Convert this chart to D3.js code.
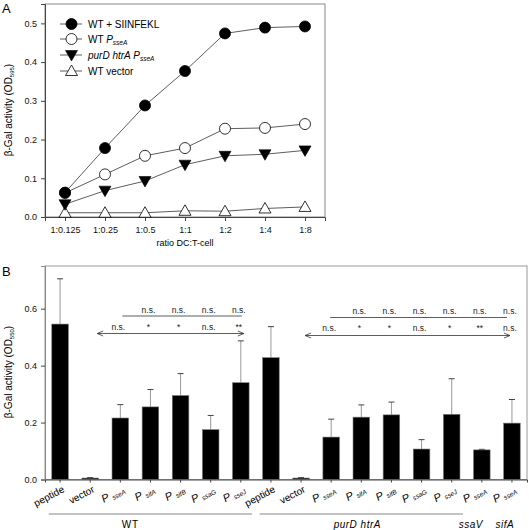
<!DOCTYPE html>
<html><head><meta charset="utf-8">
<script src="https://cdn.jsdelivr.net/npm/d3@7"></script>
<style>body{margin:0;background:#fff}svg{font-family:Arial,"Liberation Sans",sans-serif}</style>
</head><body>
<script>
// ---- Panel A data ----
const ratios = ["1:0.125","1:0.25","1:0.5","1:1","1:2","1:4","1:8"];
const seriesNames = ["WT + SIINFEKL","WT P","purD htrA P","WT vector"];
const wtPeptide = [0.063,0.178,0.288,0.377,0.474,0.489,0.492];
const wtPsseA   = [0.062,0.110,0.158,0.178,0.228,0.230,0.240];
const purdPsseA = [0.033,0.068,0.093,0.135,0.158,0.162,0.172];
const wtVector  = [0.011,0.011,0.011,0.016,0.015,0.022,0.026];
const aTicks = [0.0,0.1,0.2,0.3,0.4,0.5];

// ---- Panel B data ----
const bMain = ["peptide","vector","P","P","P","P","P","peptide","vector","P","P","P","P","P","P","P"];
const bSub  = ["","","sseA","sifA","sifB","ssaG","sseJ","","","sseA","sifA","sifB","ssaG","sseJ","sseA","sseA"];
const bValues = [0.546,0.005,0.216,0.255,0.295,0.175,0.340,0.428,0.005,0.149,0.219,0.227,0.107,0.229,0.104,0.198];
const bErrTop = [0.705,0.007,0.263,0.316,0.372,0.225,0.487,0.537,0.007,0.212,0.262,0.272,0.140,0.354,0.106,0.281];
const bTicks = [0.0,0.2,0.4,0.6];
// significance rows (bar index -> label)
const wtUpperIdx = [3,4,5,6], wtUpperLab = ["n.s.","n.s.","n.s.","n.s."];
const wtLowerIdx = [2,3,4,5,6], wtLowerLab = ["n.s.","*","*","n.s.","**"];
const pdUpperIdx = [10,11,12,13,14,15], pdUpperLab = ["n.s.","n.s.","n.s.","n.s.","n.s.","n.s."];
const pdLowerIdx = [9,10,11,12,13,14,15], pdLowerLab = ["n.s.","*","*","n.s.","*","**","n.s."];
const groups = [{name:"WT",from:0,to:6,italic:false,line:true,shift:-20},{name:"purD htrA",from:7,to:13,italic:true,line:true,shift:-4},{name:"ssaV",from:14,to:14,italic:true,line:false,shift:-11},{name:"sifA",from:15,to:15,italic:true,line:false,shift:-7}];

const svg = d3.select("body").append("svg").attr("width",529).attr("height",530);

// ================= Panel A =================
const aL=45,aR=325,aT=4,aB=217;
const xA = d3.scalePoint().domain(ratios).range([aL,aR]).padding(0.5);
const yA = d3.scaleLinear().domain([0,0.55]).range([aB,aT]);
const gA = svg.append("g");
gA.append("rect").attr("x",aL).attr("y",aT).attr("width",aR-aL).attr("height",aB-aT).attr("fill","none").attr("stroke","#888").attr("stroke-width",1);
const axLA = gA.append("g").attr("transform",`translate(${aL},0)`).call(d3.axisLeft(yA).tickValues(aTicks).tickFormat(d3.format(".1f")).tickSize(4).tickPadding(4));
const axBA = gA.append("g").attr("transform",`translate(0,${aB})`).call(d3.axisBottom(xA).tickSize(4).tickPadding(6));
[axLA,axBA].forEach(a=>{a.select(".domain").attr("stroke","#444");a.selectAll(".tick line").attr("stroke","#444");a.selectAll("text").attr("font-size",9).attr("fill","#111").attr("font-family","Arial,'Liberation Sans',sans-serif");});
gA.append("text").attr("x",185).attr("y",246).attr("text-anchor","middle").attr("font-size",9).text("ratio DC:T-cell");
const yl = gA.append("text").attr("transform","translate(12,110) rotate(-90)").attr("text-anchor","middle").attr("font-size",10);
yl.append("tspan").text("β-Gal activity (OD");
yl.append("tspan").attr("font-size",6).attr("dy",2).text("595");
yl.append("tspan").attr("dy",-2).text(")");
svg.append("text").attr("x",2).attr("y",13).attr("font-size",13).text("A");

const aSeries = [
 {vals:wtPeptide, shape:"circle", fill:"#000"},
 {vals:wtPsseA, shape:"circle", fill:"#fff"},
 {vals:purdPsseA, shape:"tridown", fill:"#000"},
 {vals:wtVector, shape:"triup", fill:"#fff"}];
const line = d3.line().x((d,i)=>xA(ratios[i])).y(d=>yA(d));
function marker(g,s,x,y){
  if(s.shape==="circle"){
    g.append("circle").attr("cx",x).attr("cy",y).attr("r",5.5).attr("fill",s.fill).attr("stroke","#000").attr("stroke-width",0.8);
  } else if(s.shape==="tridown"){
    g.append("path").attr("d",`M${x-6},${y-4.5}L${x+6},${y-4.5}L${x},${y+6}Z`).attr("fill","#000").attr("stroke","#000").attr("stroke-width",0.6);
  } else {
    g.append("path").attr("d",`M${x-6},${y+4.5}L${x+6},${y+4.5}L${x},${y-6}Z`).attr("fill","#fff").attr("stroke","#000").attr("stroke-width",0.8);
  }
}
aSeries.slice().reverse().forEach(s=>{
  gA.append("path").attr("d",line(s.vals)).attr("fill","none").attr("stroke","#333").attr("stroke-width",0.8);
});
aSeries.slice().reverse().forEach(s=>{
  s.vals.forEach((v,i)=>marker(gA,s,xA(ratios[i]),yA(v)));
});
// legend
const legY=[24,39,55,71];
aSeries.forEach((s,i)=>{
  gA.append("line").attr("x1",60).attr("x2",82).attr("y1",legY[i]).attr("y2",legY[i]).attr("stroke","#333").attr("stroke-width",0.8);
  marker(gA,s,71.5,legY[i]);
  const t=gA.append("text").attr("x",88).attr("y",legY[i]+3.5).attr("font-size",10);
  if(i===0) t.text(seriesNames[0]);
  else if(i===1){t.append("tspan").text("WT ");t.append("tspan").attr("font-style","italic").text("P");t.append("tspan").attr("font-style","italic").attr("font-size",6.5).attr("dy",2).text("sseA");}
  else if(i===2){t.append("tspan").attr("font-style","italic").text("purD htrA P");t.append("tspan").attr("font-style","italic").attr("font-size",6.5).attr("dy",2).text("sseA");}
  else t.text(seriesNames[3]);
});

// ================= Panel B =================
const bL=45,bR=527,bT=266,bB=479.5;
const idx = d3.range(bValues.length);
const xB = d3.scaleBand().domain(idx).range([bL,bR]).paddingInner(0.45).paddingOuter(0.225);
const yB = d3.scaleLinear().domain([0,0.75]).range([bB,bT]);
const cx = i=>xB(i)+xB.bandwidth()/2;
const gB = svg.append("g");
gB.append("rect").attr("x",bL).attr("y",bT).attr("width",bR-bL).attr("height",bB-bT).attr("fill","none").attr("stroke","#999").attr("stroke-width",1);
const axLB = gB.append("g").attr("transform",`translate(${bL},0)`).call(d3.axisLeft(yB).tickValues(bTicks).tickFormat(d3.format(".1f")).tickSize(4).tickPadding(4));
const axBB = gB.append("g").attr("transform",`translate(0,${bB})`).call(d3.axisBottom(xB).tickSize(3).tickFormat(""));
axLB.select(".domain").attr("stroke","#888");
axBB.select(".domain").attr("stroke","#444");
[axLB,axBB].forEach(a=>{a.selectAll(".tick line").attr("stroke","#444");a.selectAll("text").attr("font-size",9).attr("fill","#111").attr("font-family","Arial,'Liberation Sans',sans-serif");});
svg.append("text").attr("x",2).attr("y",276).attr("font-size",13).text("B");
const yl2 = gB.append("text").attr("transform","translate(12,372) rotate(-90)").attr("text-anchor","middle").attr("font-size",10);
yl2.append("tspan").text("β-Gal activity (OD");
yl2.append("tspan").attr("font-size",6).attr("dy",2).text("550");
yl2.append("tspan").attr("dy",-2).text(")");

// error bars
idx.forEach(i=>{
  gB.append("line").attr("x1",cx(i)).attr("x2",cx(i)).attr("y1",yB(bValues[i])).attr("y2",yB(bErrTop[i])).attr("stroke","#999").attr("stroke-width",1);
  gB.append("line").attr("x1",cx(i)-3).attr("x2",cx(i)+3).attr("y1",yB(bErrTop[i])).attr("y2",yB(bErrTop[i])).attr("stroke","#444").attr("stroke-width",1);
});
gB.selectAll("rect.bar").data(idx).join("rect").attr("class","bar")
  .attr("x",i=>xB(i)).attr("width",xB.bandwidth())
  .attr("y",i=>yB(bValues[i])).attr("height",i=>bB-yB(bValues[i]))
  .attr("fill","#000").attr("stroke","#777").attr("stroke-width",0.6);

// x labels rotated
idx.forEach(i=>{
  const t = gB.append("text").attr("text-anchor","end").attr("font-size",10)
    .attr("transform",`translate(${cx(i)+5},${bB+12}) rotate(-28)`);
  if(bSub[i]===""){ t.text(bMain[i]); }
  else {
    t.append("tspan").attr("font-style","italic").attr("font-size",11).text(bMain[i]+" ");
    t.append("tspan").attr("font-style","italic").attr("font-size",6.5).attr("dy",2).text(bSub[i]);
  }
});
// groups
groups.forEach(g=>{
  const x1=xB(g.from)-3, x2=xB(g.to)+xB.bandwidth()+3;
  if(g.line) gB.append("line").attr("x1",x1).attr("x2",x2).attr("y1",514).attr("y2",514).attr("stroke","#888").attr("stroke-width",1);
  gB.append("text").attr("x",(cx(g.from)+cx(g.to))/2+g.shift).attr("y",528).attr("text-anchor","middle").attr("font-size",10)
    .attr("font-style",g.italic?"italic":"normal").attr("letter-spacing",g.italic?0.5:1).text(g.name);
});

// significance annotations
function sigRow(ids,labs,y){
  ids.forEach((b,k)=>gB.append("text").attr("x",cx(b)-2).attr("y",y).attr("text-anchor","middle").attr("font-size",8.5).attr("fill","#222").text(labs[k]));
}
function arrowLine(x1,x2,y){
  gB.append("line").attr("x1",x1).attr("x2",x2).attr("y1",y).attr("y2",y).attr("stroke","#333").attr("stroke-width",0.8);
  gB.append("path").attr("d",`M${x1+6},${y-2.5}L${x1},${y}L${x1+6},${y+2.5}`).attr("fill","none").attr("stroke","#333").attr("stroke-width",0.8);
  gB.append("path").attr("d",`M${x2-6},${y-2.5}L${x2},${y}L${x2-6},${y+2.5}`).attr("fill","none").attr("stroke","#333").attr("stroke-width",0.8);
}
// WT
gB.append("line").attr("x1",cx(2)+2).attr("x2",cx(6)+1).attr("y1",316).attr("y2",316).attr("stroke","#333").attr("stroke-width",0.8);
sigRow(wtUpperIdx,wtUpperLab,313);
arrowLine(cx(1)+7,cx(6)+3,333.5);
sigRow(wtLowerIdx,wtLowerLab,330);
// purD htrA
gB.append("line").attr("x1",cx(9)-1).attr("x2",cx(15)-5).attr("y1",317.5).attr("y2",317.5).attr("stroke","#333").attr("stroke-width",0.8);
sigRow(pdUpperIdx,pdUpperLab,314);
arrowLine(cx(8)+4,cx(15)-2,335.5);
sigRow(pdLowerIdx,pdLowerLab,331);
</script>
</body></html>
